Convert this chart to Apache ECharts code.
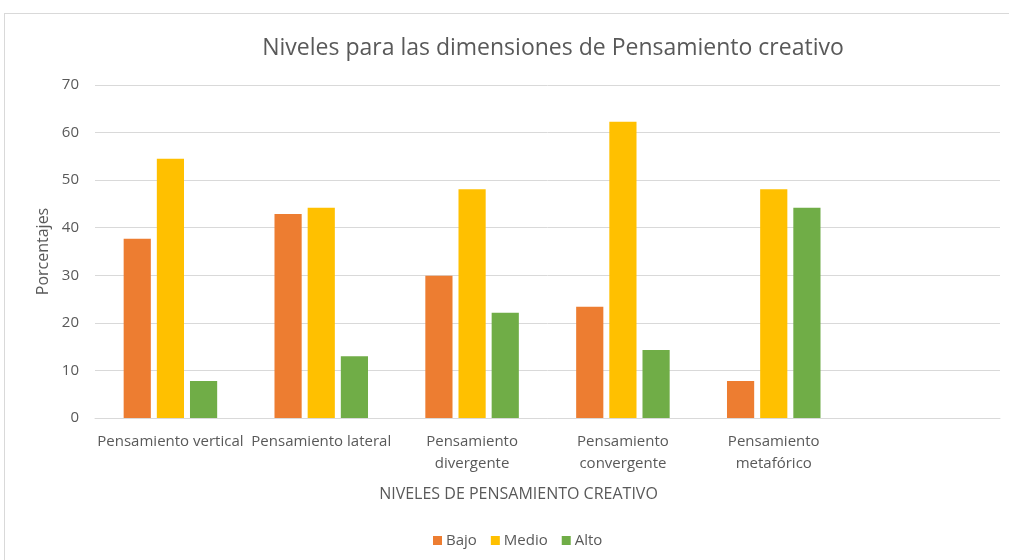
<!DOCTYPE html>
<html>
<head>
<meta charset="utf-8">
<script src="https://cdn.jsdelivr.net/npm/echarts@6/dist/echarts.min.js"></script>
<style>
  html, body { margin: 0; padding: 0; background: #fff; }
  #frame { position: absolute; left: 4px; top: 13px; width: 1100px; height: 600px; border: 1px solid #d9d9d9; box-sizing: border-box; }
  #chart { position: absolute; left: 0; top: 0; width: 1009px; height: 560px; }
</style>
</head>
<body>
<div id="frame"></div>
<div id="chart"></div>
<script>
const categories = [
  "Pensamiento vertical",
  "Pensamiento lateral",
  "Pensamiento\ndivergente",
  "Pensamiento\nconvergente",
  "Pensamiento\nmetafórico",
  ""
];
const seriesNames = ["Bajo", "Medio", "Alto"];
const bajo  = [37.7, 42.9, 29.9, 23.4, 7.8, null];
const medio = [54.5, 44.2, 48.1, 62.3, 48.1, null];
const alto  = [7.8, 13.0, 22.1, 14.3, 44.2, null];
const yTicks = { min: 0, max: 70, interval: 10 };

const colors = ["#ED7D31", "#FFC000", "#70AD47"];
const FONT = "'Open Sans', 'Noto Sans', sans-serif";
const TXT = "#595959";

const chart = echarts.init(document.getElementById('chart'), null, { renderer: 'canvas' });
const values = [bajo, medio, alto];
chart.setOption({
  animation: false,
  textStyle: { fontFamily: FONT },
  title: {
    text: "Niveles para las dimensiones de Pensamiento creativo",
    left: 548, top: 32,
    textAlign: 'center',
    textStyle: { fontFamily: FONT, fontSize: 23, fontWeight: 'normal', color: TXT }
  },
  legend: {
    data: seriesNames,
    left: 428, top: 528,
    itemWidth: 9, itemHeight: 9, itemGap: 14,
    icon: 'rect',
    textStyle: { fontFamily: FONT, fontSize: 15, color: TXT, padding: [0, 0, 0, -1] }
  },
  grid: { left: 95, right: 9, top: 85, bottom: 142, containLabel: false },
  xAxis: {
    type: 'category',
    data: categories,
    name: "NIVELES DE PENSAMIENTO CREATIVO",
    nameLocation: 'middle',
    nameGap: 68,
    nameTextStyle: { fontFamily: FONT, fontSize: 16, color: TXT, padding: [0, 58, 0, 0] },
    axisLine: { lineStyle: { color: '#d9d9d9', width: 1 } },
    axisTick: { show: false },
    axisLabel: { interval: 0, fontFamily: FONT, fontSize: 15, color: TXT, margin: 13, lineHeight: 22 }
  },
  yAxis: {
    type: 'value',
    min: yTicks.min, max: yTicks.max, interval: yTicks.interval,
    name: "Porcentajes",
    nameLocation: 'middle',
    nameGap: 43,
    nameTextStyle: { fontFamily: FONT, fontSize: 16, color: TXT },
    axisLine: { show: false },
    axisTick: { show: false },
    axisLabel: { fontFamily: FONT, fontSize: 15, color: TXT, margin: 16 },
    splitLine: { lineStyle: { color: '#d9d9d9', width: 1 } }
  },
  series: seriesNames.map((n, i) => ({
    name: n,
    type: 'bar',
    data: values[i],
    barGap: '22%',
    barCategoryGap: '38%',
    itemStyle: { color: colors[i] }
  }))
});
</script>
</body>
</html>
